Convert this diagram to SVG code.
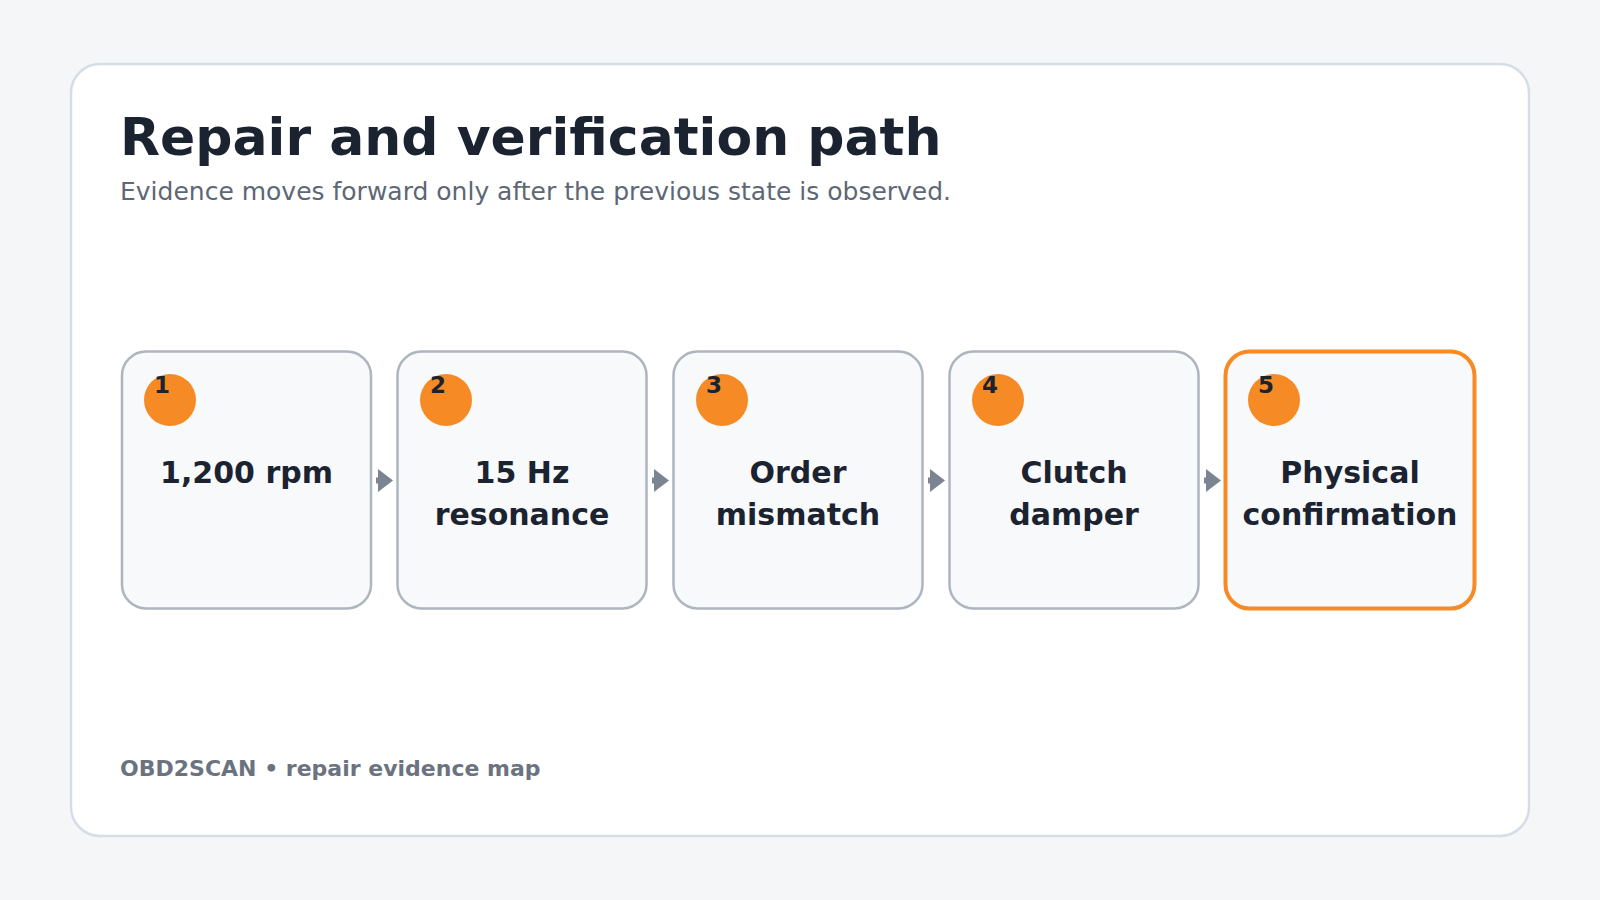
<svg xmlns="http://www.w3.org/2000/svg" width="1600" height="900" viewBox="0 0 1600 900">
<defs>
<style>
text{font-family:"DejaVu Sans","Noto Sans",sans-serif;}
.title{font-size:52px;font-weight:700;fill:#1b2330;}
.sub{font-size:25px;fill:#5d6775;}
.foot{font-size:22px;font-weight:700;fill:#6b7380;}
.box{fill:#f7f9fb;stroke:#adb5bf;stroke-width:2.5;}
.box.hl{stroke:#f68a24;stroke-width:4;}
.dot{fill:#f68a24;}
.num{font-size:23px;font-weight:700;fill:#1b2330;}
.lbl{font-size:30px;font-weight:700;fill:#1b2330;text-anchor:middle;}
.conn{stroke:#7a8591;stroke-width:6;fill:none;}
</style>
<marker id="ah" viewBox="0 0 15 23" markerWidth="15" markerHeight="23" refX="1" refY="11.5" markerUnits="userSpaceOnUse" orient="auto">
<path d="M0,0 L15,11.5 L0,23 z" fill="#7a8591"/>
</marker>
</defs>
<rect x="0" y="0" width="1600" height="900" fill="#f4f6f8"/>
<rect x="71" y="64" width="1458" height="772" rx="29" fill="#ffffff" stroke="#d6dde5" stroke-width="2.5"/>
<text class="title" x="120" y="155">Repair and verification path</text>
<text class="sub" x="120" y="200">Evidence moves forward only after the previous state is observed.</text>
<g id="connectors">
<line class="conn" x1="376" y1="480.5" x2="379" y2="480.5" marker-end="url(#ah)"/>
<line class="conn" x1="652" y1="480.5" x2="655" y2="480.5" marker-end="url(#ah)"/>
<line class="conn" x1="928" y1="480.5" x2="931" y2="480.5" marker-end="url(#ah)"/>
<line class="conn" x1="1204" y1="480.5" x2="1207" y2="480.5" marker-end="url(#ah)"/>
</g>
<g id="node1">
<rect class="box" x="122" y="351.5" width="249" height="257" rx="24"/>
<circle class="dot" cx="170" cy="400" r="26"/>
<text class="num" x="154" y="393">1</text>
<text class="lbl" x="246.5" y="483">1,200 rpm</text>
</g>
<g id="node2">
<rect class="box" x="397.5" y="351.5" width="249" height="257" rx="24"/>
<circle class="dot" cx="446" cy="400" r="26"/>
<text class="num" x="430" y="393">2</text>
<text class="lbl" x="522" y="483">15 Hz</text>
<text class="lbl" x="522" y="525">resonance</text>
</g>
<g id="node3">
<rect class="box" x="673.5" y="351.5" width="249" height="257" rx="24"/>
<circle class="dot" cx="722" cy="400" r="26"/>
<text class="num" x="706" y="393">3</text>
<text class="lbl" x="798" y="483">Order</text>
<text class="lbl" x="798" y="525">mismatch</text>
</g>
<g id="node4">
<rect class="box" x="949.5" y="351.5" width="249" height="257" rx="24"/>
<circle class="dot" cx="998" cy="400" r="26"/>
<text class="num" x="982" y="393">4</text>
<text class="lbl" x="1074" y="483">Clutch</text>
<text class="lbl" x="1074" y="525">damper</text>
</g>
<g id="node5">
<rect class="box hl" x="1225.5" y="351.5" width="249" height="257" rx="24"/>
<circle class="dot" cx="1274" cy="400" r="26"/>
<text class="num" x="1258" y="393">5</text>
<text class="lbl" x="1350" y="483">Physical</text>
<text class="lbl" x="1350" y="525">confirmation</text>
</g>
<text class="foot" x="120" y="776">OBD2SCAN • repair evidence map</text>
</svg>
